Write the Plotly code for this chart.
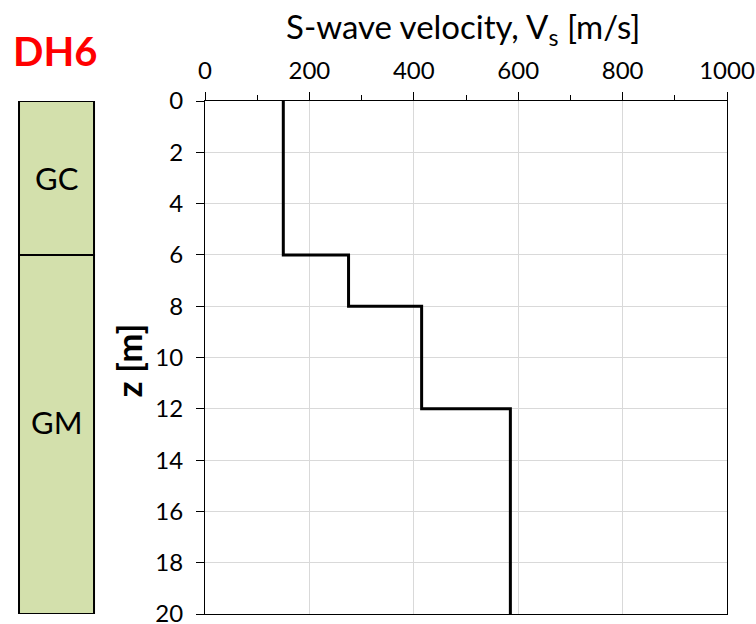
import plotly.graph_objects as go

# Shear-wave velocity profile for borehole DH6
layer_tops = [0, 6, 8, 12]
layer_bottoms = [6, 8, 12, 20]
vs_values = [150, 275, 415, 585]

# Soil log (stratigraphic column) next to the profile
soil_names = ["GC", "GM"]
soil_tops = [0, 6]
soil_bottoms = [6, 20]

x_ticks = [0, 200, 400, 600, 800, 1000]
y_ticks = [0, 2, 4, 6, 8, 10, 12, 14, 16, 18, 20]
depth_range = [20, 0]

FONT = "Lato, 'Liberation Sans', Arial, sans-serif"

# Build the stepped line: each layer is a vertical segment at its velocity
step_x, step_y = [], []
for top, bot, v in zip(layer_tops, layer_bottoms, vs_values):
    step_x += [v, v]
    step_y += [top, bot]

fig = go.Figure()
fig.add_trace(go.Scatter(
    x=step_x, y=step_y, mode="lines",
    line=dict(color="black", width=3),
    showlegend=False, hoverinfo="skip",
))


def depth_to_paper(z):
    """Convert a depth to paper y (top of plot = 1, bottom = 0)."""
    lo, hi = depth_range
    return (z - lo) / (hi - lo)


# Soil column drawn left of the plot area
col_x0, col_x1 = -0.3563, -0.2126
shapes = []
annotations = []
for name, top, bot in zip(soil_names, soil_tops, soil_bottoms):
    shapes.append(dict(
        type="rect", xref="paper", yref="y",
        x0=col_x0, x1=col_x1, y0=top, y1=bot,
        fillcolor="#D3E0AC", line=dict(color="black", width=2),
        layer="above",
    ))
    mid = (top + bot) / 2
    annotations.append(dict(
        xref="paper", yref="paper",
        x=(col_x0 + col_x1) / 2, y=depth_to_paper(mid),
        xanchor="center", yanchor="middle",
        text=name, showarrow=False,
        yshift=0 if bot - top < 10 else 12,
        font=dict(family=FONT, size=31, color="black"),
    ))

annotations.append(dict(
    xref="paper", yref="paper", x=-0.2874, y=1.0,
    xanchor="center", yanchor="middle", yshift=50,
    text="<b>DH6</b>", showarrow=False,
    font=dict(family=FONT, size=40, color="#FF0000"),
))
annotations.append(dict(
    xref="paper", yref="paper", x=-0.1494, y=0.5,
    xanchor="center", yanchor="middle", yshift=-3,
    text="<b>z [m]</b>", textangle=-90, showarrow=False,
    font=dict(family=FONT, size=35, color="black"),
))
annotations.append(dict(
    xref="paper", yref="paper", x=0.494, y=1.0,
    xanchor="center", yanchor="middle", yshift=73,
    text="S-wave velocity, V<sub>s</sub> [m/s]", showarrow=False,
    font=dict(family=FONT, size=33, color="black"),
))

fig.update_layout(
    width=756, height=624,
    margin=dict(l=205, r=29, t=101, b=10, autoexpand=False),
    paper_bgcolor="white", plot_bgcolor="white",
    shapes=shapes, annotations=annotations,
    font=dict(family=FONT, size=24, color="black"),
    xaxis=dict(
        side="top", range=[0, 1000], automargin=False,
        tickmode="array", tickvals=x_ticks, ticktext=[str(v) for v in x_ticks],
        ticks="outside", ticklen=8, tickwidth=1, tickcolor="black",
        ticklabelstandoff=3, ticklabeloverflow="allow",
        minor=dict(dtick=100, ticks="outside", ticklen=5, tickcolor="black",
                   showgrid=False),
        showline=True, linecolor="black", linewidth=1, mirror=True,
        showgrid=True, gridcolor="#D9D9D9", gridwidth=1,
        zeroline=False, fixedrange=True,
        tickfont=dict(family=FONT, size=24),
    ),
    yaxis=dict(
        range=depth_range, automargin=False,
        tickmode="array", tickvals=y_ticks, ticktext=[str(v) for v in y_ticks],
        ticks="outside", ticklen=8, tickwidth=1, tickcolor="black",
        ticklabelstandoff=8, ticklabeloverflow="allow",
        showline=True, linecolor="black", linewidth=1, mirror=True,
        showgrid=True, gridcolor="#D9D9D9", gridwidth=1,
        zeroline=False, fixedrange=True,
        tickfont=dict(family=FONT, size=24),
    ),
)

fig.write_html("out.html")
